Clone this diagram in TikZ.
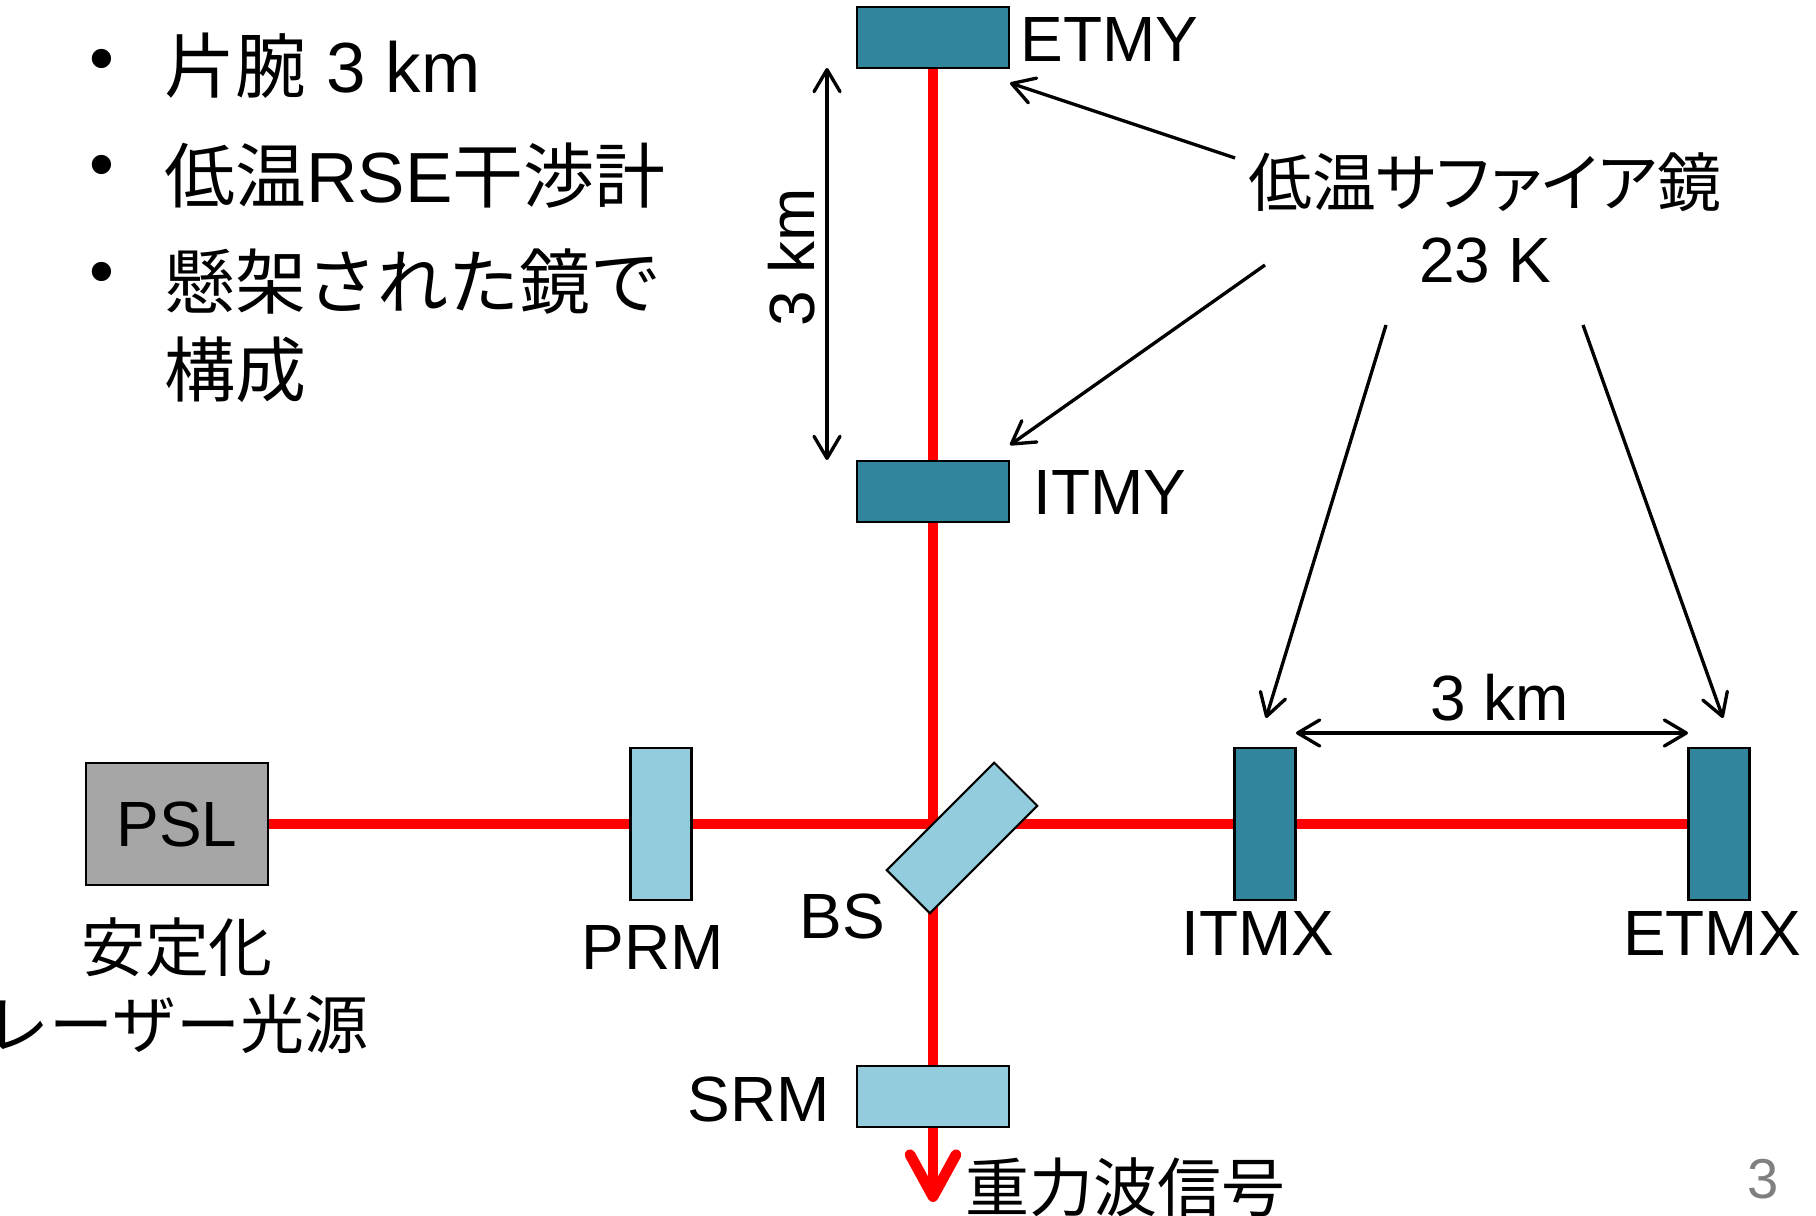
\documentclass[tikz,border=0pt]{standalone}
\usepackage{fontspec}
\setmainfont{Liberation Sans}
\newfontfamily\cjk{Noto Sans CJK JP}
\newfontfamily\cjkp[RawFeature=+palt]{Noto Sans CJK JP}
\usetikzlibrary{arrows.meta,backgrounds}
\definecolor{cold}{HTML}{31859C}
\definecolor{warm}{HTML}{93CDDD}
\definecolor{pslgrey}{HTML}{A6A6A6}
\tikzset{thinarrow/.style={line width=0.95pt,{Straight Barb[round,length=2.2mm,width=2.6mm]}-{Straight Barb[round,length=2.2mm,width=2.6mm]}}}
\tikzset{callout/.style={line width=0.95pt,-{Straight Barb[round,length=2.2mm,width=2.6mm]}}}
\tikzset{beam/.style={red,line width=3.05pt}}
\tikzset{mirror/.style={draw=black,line width=0.6pt,inner sep=0pt,minimum width=#1}}
\tikzset{label/.style={font=\fontsize{18.2}{22}\selectfont,inner sep=0pt}}
\tikzset{bigtext/.style={font=\fontsize{20.2}{24}\selectfont,inner sep=0pt}}
\begin{document}
\begin{tikzpicture}[x=1cm,y=-1cm]
        \useasboundingbox (0,0) rectangle (18.16,12.16);
        % bullet list
        \node (bulleta) [bigtext] at (1.02,0.66) {•};
        \node (bulletb) [bigtext] at (1.02,1.72) {•};
        \node (bulletc) [bigtext] at (1.02,2.79) {•};
        \node (arm) [bigtext,anchor=base west] at (1.64,0.93) {{\cjk 片腕} 3 km};
        \node (rse) [bigtext,anchor=base west] at (1.64,2.03) {{\cjk 低温}RSE{\cjk 干渉計}};
        \node (susp) [bigtext,anchor=base west] at (1.64,3.09) {{\cjk 懸架された鏡で}};
        \node (susq) [bigtext,anchor=base west] at (1.64,3.97) {{\cjk 構成}};
        % mirrors
        \node (etmy) [mirror=1.52cm,minimum height=0.61cm,fill=cold] at (9.33,0.375) {};
        \node (itmy) [mirror=1.52cm,minimum height=0.61cm,fill=cold] at (9.33,4.915) {};
        \node (srm) [mirror=1.52cm,minimum height=0.61cm,fill=warm] at (9.33,10.965) {};
        \node (prm) [mirror=0.61cm,minimum height=1.52cm,fill=warm] at (6.61,8.24) {};
        \node (itmx) [mirror=0.61cm,minimum height=1.52cm,fill=cold] at (12.65,8.24) {};
        \node (etmx) [mirror=0.61cm,minimum height=1.52cm,fill=cold] at (17.19,8.24) {};
        \node (bs) [mirror=1.52cm,minimum height=0.61cm,fill=warm,rotate=45] at (9.62,8.38) {};
        \node (psl) [draw=black,line width=0.6pt,fill=pslgrey,minimum width=1.82cm,minimum height=1.22cm,inner sep=0pt,font=\fontsize{18.2}{22}\selectfont] at (1.77,8.24) {PSL};
        % laser beam
        \coordinate (out) at (9.33,12.02);
        \begin{scope}[on background layer]
            \draw [beam] (psl.east) -- (etmx.west);
            \draw [beam] (etmy.south) -- (srm.north);
            \draw [beam,line cap=round,-{Straight Barb[round,length=4.2mm,width=4.6mm]}] (srm.south) -- (out);
        \end{scope}
        % labels
        \node (etmylabel) [label,anchor=base west] at (10.2,0.62) {ETMY};
        \node (itmylabel) [label,anchor=base west] at (10.33,5.15) {ITMY};
        \node (srmlabel) [label,anchor=base] at (7.59,11.21) {SRM};
        \node (prmlabel) [label,anchor=base] at (6.53,9.69) {PRM};
        \node (bslabel) [label,anchor=base] at (8.42,9.38) {BS};
        \node (itmxlabel) [label,anchor=base] at (12.58,9.55) {ITMX};
        \node (etmxlabel) [label,anchor=base] at (17.12,9.55) {ETMX};
        \node (source) [label] at (1.77,9.47) {{\cjk 安定化}};
        \node (sourceb) [label] at (1.77,10.24) {{\cjk レーザー光源}};
        \node (signal) [label,anchor=west] at (9.65,11.87) {{\cjk 重力波信号}};
        \node (page) [label,text=black!50,font=\fontsize{16}{20}\selectfont] at (17.63,11.79) {3};
        \node (cryo) [label] at (14.85,1.82) {{\cjkp 低温サファイア鏡}};
        \node (temp) [label] at (14.85,2.6) {23 K};
        % arm lengths
        \coordinate (yarmtop) at (8.27,0.68);
        \coordinate (yarmbot) at (8.27,4.6);
        \coordinate (xarmleft) at (12.96,7.33);
        \coordinate (xarmright) at (16.88,7.33);
        \draw [thinarrow] (yarmtop) -- (yarmbot);
        \draw [thinarrow] (xarmleft) -- (xarmright);
        \node (ylen) [label,rotate=90] at (7.92,2.57) {3 km};
        \node (xlen) [label] at (15,6.98) {3 km};
        % pointers to the cold mirrors
        \coordinate (ptra) at (12.35,1.58);
        \coordinate (ptrb) at (12.65,2.65);
        \coordinate (ptrc) at (13.86,3.25);
        \coordinate (ptrd) at (15.83,3.25);
        \coordinate (tipa) at (10.1,0.83);
        \coordinate (tipb) at (10.1,4.45);
        \coordinate (tipc) at (12.66,7.18);
        \coordinate (tipd) at (17.23,7.18);
        \draw [callout] (ptra) -- (tipa);
        \draw [callout] (ptrb) -- (tipb);
        \draw [callout] (ptrc) -- (tipc);
        \draw [callout] (ptrd) -- (tipd);
    \end{tikzpicture}
\end{document}
